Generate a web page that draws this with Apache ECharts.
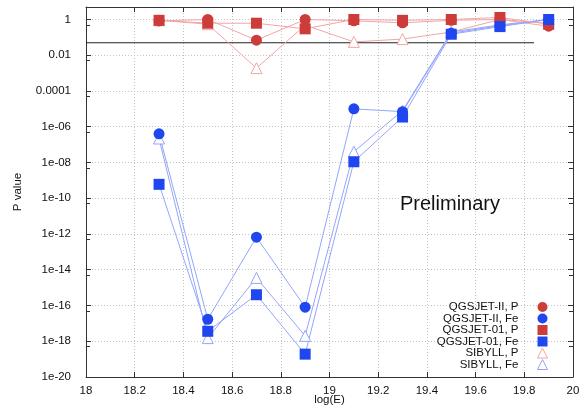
<!DOCTYPE html>
<html>
<head>
<meta charset="utf-8">
<script src="https://cdn.jsdelivr.net/npm/echarts@6/dist/echarts.min.js"></script>
<style>html,body{margin:0;padding:0;background:#fff}#c{width:579px;height:417px}</style>
</head>
<body>
<div id="c"></div>
<script>
var energies = [18.3, 18.5, 18.7, 18.9, 19.1, 19.3, 19.5, 19.7, 19.9];
var qgsjet2P  = [0.83, 1.0, 0.07, 1.0, 0.85, 0.65, 0.9, 1.0, 0.42];
var qgsjet2Fe = [4e-7, 1.7e-17, 6.6e-13, 8e-17, 1e-5, 7e-6, 0.17, 0.45, 1.0];
var qgsjet01P = [0.9, 0.62, 0.62, 0.3, 1.0, 0.9, 1.0, 1.3, 0.55];
var qgsjet01Fe = [6e-10, 3.6e-18, 4e-16, 1.9e-19, 1.1e-8, 3.5e-6, 0.15, 0.4, 1.0];
var sibyllP   = [0.9, 0.55, 1.9e-3, 0.48, 0.056, 0.08, 0.2, 1.0, 0.6];
var sibyllFe  = [2.2e-7, 1.5e-18, 3.5e-15, 2e-18, 4e-8, 8e-6, 0.2, 0.5, 1.0];
var thresholdLine = [[18, 0.05], [19.84, 0.05]];
var seriesNames = ['QGSJET-II, P', 'QGSJET-II, Fe', 'QGSJET-01, P', 'QGSJET-01, Fe', 'SIBYLL, P', 'SIBYLL, Fe'];
var yTickLabels = ['1e-20','1e-18','1e-16','1e-14','1e-12','1e-10','1e-08','1e-06','0.0001','0.01','1'];
var yTickExponents = [-20,-18,-16,-14,-12,-10,-8,-6,-4,-2,0];
var xTickLabels = ['18','18.2','18.4','18.6','18.8','19','19.2','19.4','19.6','19.8','20'];
var annotationText = 'Preliminary';

var RED = '#cc3d3a', BLUE = '#2046f0';
var RED_LINE = '#f2a5a5', BLUE_LINE = '#93a5fb';
var FONT = 'Liberation Sans, Arial, sans-serif';

function zip(vals){ return energies.map(function(e,i){ return [e, vals[i]]; }); }
function mk(name, vals, symbol, color, lineColor, hollow){
  return {
    name: name, type: 'line', data: zip(vals),
    symbol: symbol, symbolSize: 11,
    lineStyle: {color: lineColor, width: 1},
    itemStyle: hollow ? {color: '#fff', borderColor: lineColor, borderWidth: 1} : {color: color, borderWidth: 0},
    emphasis: {disabled: true}, animation: false
  };
}
function yFmt(v){
  var e = Math.round(Math.log10(v));
  if (Math.abs(Math.log10(v) - e) > 1e-6) return '';
  var i = yTickExponents.indexOf(e);
  return i >= 0 ? yTickLabels[i] : '';
}
function xFmt(v){
  var i = Math.round((v - 18) / 0.2);
  return xTickLabels[i] !== undefined ? xTickLabels[i] : '';
}

var chart = echarts.init(document.getElementById('c'), null, {renderer: 'canvas'});
var axisLineStyle = {color: '#333', width: 1};
var option = {
  animation: false,
  grid: {left: 86, right: 6, top: 7, bottom: 40, containLabel: false, outerBoundsMode: 'none'},
  xAxis: [{
    type: 'value', min: 18, max: 20, interval: 0.2, position: 'bottom',
    name: 'log(E)', nameLocation: 'middle', nameGap: 17, nameMoveOverlap: false,
    nameTextStyle: {fontFamily: FONT, fontSize: 11.5, color: '#111'},
    axisLine: {show: true, lineStyle: axisLineStyle},
    axisTick: {show: true, inside: true, length: 5, lineStyle: axisLineStyle},
    axisLabel: {formatter: xFmt, fontFamily: FONT, fontSize: 11.5, color: '#111', margin: 8},
    splitLine: {show: true, lineStyle: {color: '#c4c4c4', type: [1, 2], width: 1}}
  }, {
    type: 'value', min: 18, max: 20, interval: 0.2, position: 'top',
    axisLine: {show: true, onZero: false, lineStyle: axisLineStyle},
    axisTick: {show: true, inside: true, length: 5, lineStyle: axisLineStyle},
    axisLabel: {show: false}, splitLine: {show: false}
  }],
  yAxis: [{
    type: 'log', logBase: 10, min: 1e-20, max: 5, interval: 2, position: 'left',
    name: 'P value', nameLocation: 'middle', nameGap: 62, nameRotate: 90, nameMoveOverlap: false,
    nameTextStyle: {fontFamily: FONT, fontSize: 11.5, color: '#111'},
    axisLine: {show: true, lineStyle: axisLineStyle},
    axisTick: {show: true, inside: true, length: 5, lineStyle: axisLineStyle},
    minorTick: {show: true, splitNumber: 2, length: 4, lineStyle: axisLineStyle},
    axisLabel: {formatter: yFmt, fontFamily: FONT, fontSize: 11.5, color: '#111', margin: 15, showMaxLabel: false},
    splitLine: {show: true, lineStyle: {color: '#c4c4c4', type: [1, 2], width: 1}}
  }, {
    type: 'log', logBase: 10, min: 1e-20, max: 5, interval: 2, position: 'right',
    axisLine: {show: true, onZero: false, lineStyle: axisLineStyle},
    axisTick: {show: true, inside: true, length: 5, lineStyle: axisLineStyle},
    minorTick: {show: true, splitNumber: 2, length: 4, lineStyle: axisLineStyle},
    axisLabel: {show: false}, splitLine: {show: false}
  }],
  legend: {
    orient: 'vertical', align: 'right', right: 31, top: 301, padding: 0,
    itemWidth: 10, itemHeight: 10, itemGap: -0.5,
    textStyle: {fontFamily: FONT, fontSize: 11.5, color: '#111', lineHeight: 10, padding: [0, 14, 0, 0]},
    data: [
      {name: seriesNames[0], icon: 'circle', itemStyle: {color: RED, borderWidth: 0}},
      {name: seriesNames[1], icon: 'circle', itemStyle: {color: BLUE, borderWidth: 0}},
      {name: seriesNames[2], icon: 'rect', itemStyle: {color: RED, borderWidth: 0}},
      {name: seriesNames[3], icon: 'rect', itemStyle: {color: BLUE, borderWidth: 0}},
      {name: seriesNames[4], icon: 'triangle', itemStyle: {color: '#fff', borderColor: RED_LINE, borderWidth: 1}},
      {name: seriesNames[5], icon: 'triangle', itemStyle: {color: '#fff', borderColor: BLUE_LINE, borderWidth: 1}}
    ]
  },
  graphic: [{
    type: 'text', left: 400, top: 194,
    style: {text: annotationText, font: '20px ' + FONT, fill: '#111'}
  }],
  series: [
    {name: 'threshold', type: 'line', data: thresholdLine, symbol: 'none', silent: true,
     lineStyle: {color: '#222', width: 1}, z: 1},
    mk(seriesNames[4], sibyllP, 'triangle', RED, RED_LINE, true),
    mk(seriesNames[5], sibyllFe, 'triangle', BLUE, BLUE_LINE, true),
    mk(seriesNames[0], qgsjet2P, 'circle', RED, RED_LINE, false),
    mk(seriesNames[1], qgsjet2Fe, 'circle', BLUE, BLUE_LINE, false),
    mk(seriesNames[2], qgsjet01P, 'rect', RED, RED_LINE, false),
    mk(seriesNames[3], qgsjet01Fe, 'rect', BLUE, BLUE_LINE, false)
  ]
};
chart.setOption(option);
</script>
</body>
</html>
